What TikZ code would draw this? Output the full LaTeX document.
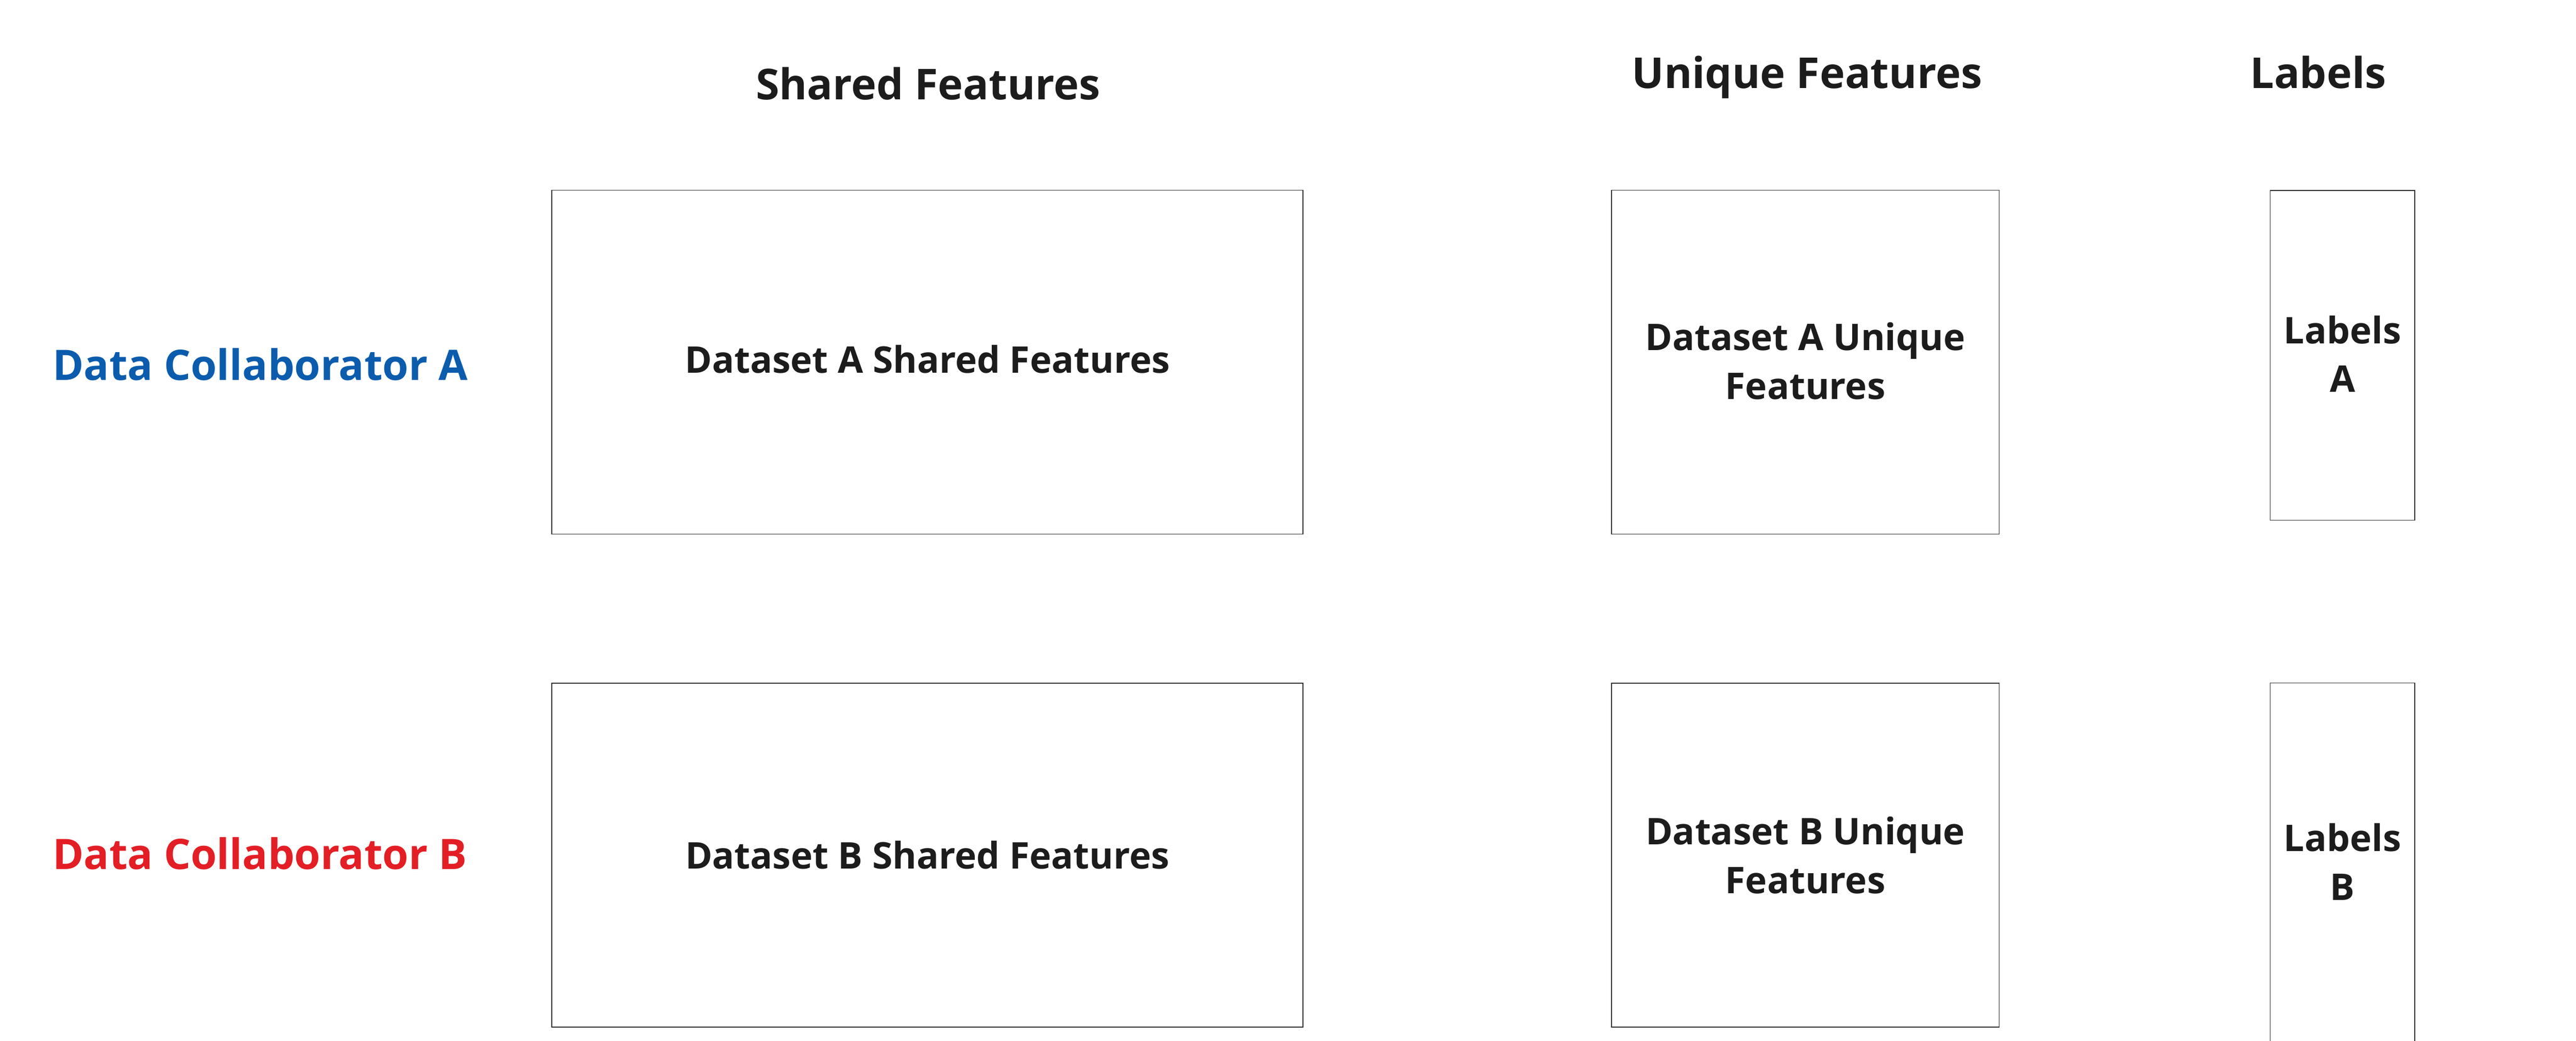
\documentclass[tikz,border=0pt]{standalone}
\usepackage{fontspec}
\setmainfont{Open Sans}
\usepackage{xcolor}
\usepackage{tikz}
\definecolor{collabblue}{HTML}{0B5CAD}
\definecolor{collabred}{HTML}{E31E25}
\definecolor{inkgray}{HTML}{1C1C1C}
\definecolor{rulegray}{HTML}{2E2E2E}
\newcommand{\dropby}[1]{\rule[-#1]{0pt}{0pt}}

\begin{document}
\begin{tikzpicture}
\tikzstyle{head}=[font=\fontsize{33}{40}\selectfont\bfseries,text=inkgray,inner sep=0pt,anchor=base];
\tikzstyle{collab}=[font=\fontsize{32.6}{40}\selectfont\bfseries,anchor=west,inner sep=0pt];
\tikzstyle{block}=[draw=rulegray,line width=0.57pt,rectangle,align=center,text=inkgray,
  font=\fontsize{28.45}{37.8}\selectfont\bfseries,inner sep=0pt];

\useasboundingbox (0,0) rectangle (70.11,28.35);

\node[head] (shHead) at (25.26,25.63) {Shared Features};
\node[head] (unHead) at (49.18,25.94) {Unique Features};
\node[head] (lbHead) at (63.09,25.94) {Labels};

\node[collab,text=collabblue] (collA) at (1.43,18.42) {Data Collaborator A};
\node[collab,text=collabred] (collB) at (1.43,5.10) {Data Collaborator B};

\node[block,minimum width=20.44cm,minimum height=9.37cm] (shA) at (25.24,18.485) {Dataset A Shared Features\dropby{0.18cm}};
\node[block,minimum width=20.44cm,minimum height=9.37cm] (shB) at (25.24,5.06) {Dataset B Shared Features};
\node[block,minimum width=10.55cm,minimum height=9.37cm] (unA) at (49.135,18.485) {Dataset A Unique\\Features\dropby{0.08cm}};
\node[block,minimum width=10.55cm,minimum height=9.37cm] (unB) at (49.135,5.06) {Dataset B Unique\\Features};
\node[block,minimum width=3.93cm,minimum height=8.98cm] (lbA) at (63.755,18.67) {Labels\\A\dropby{0.08cm}};
\begin{scope}
\clip (0,0) rectangle (70.11,28.35);
\node[block,minimum width=3.93cm,minimum height=10cm] (lbB) at (63.755,4.75) {Labels\\B\dropby{0.26cm}};
\end{scope}
\end{tikzpicture}
\end{document}
